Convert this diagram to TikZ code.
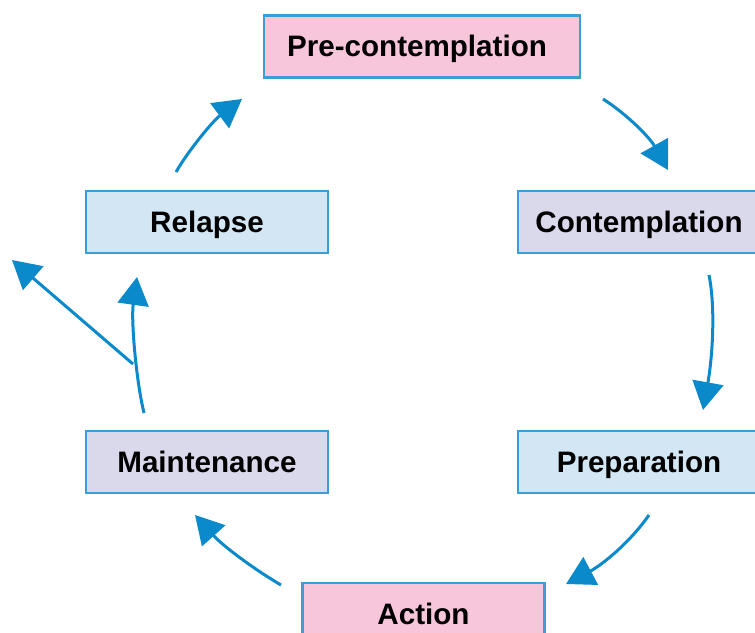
\documentclass[tikz,border=0pt]{standalone}
\usepackage{fontspec}
\setmainfont{Liberation Sans}
\usetikzlibrary{arrows.meta}
\definecolor{edgeblue}{RGB}{60,158,212}
\definecolor{arrowblue}{RGB}{10,137,203}
\definecolor{pinkfill}{RGB}{247,198,219}
\definecolor{lavfill}{RGB}{218,216,235}
\definecolor{bluefill}{RGB}{210,230,244}
\tikzset{
  stagebox/.style={draw=edgeblue, line width=2.2pt, minimum height=62pt,
    minimum width=242pt, inner sep=0pt, font=\fontsize{29.6}{34}\selectfont\bfseries,
    text height=20.5pt, text depth=0pt},
  cyclearrow/.style={draw=arrowblue, line width=3pt,
    -{Triangle[length=28pt,width=31pt]}}
}
\begin{document}
\begin{tikzpicture}[x=1pt,y=-1pt]
\useasboundingbox (0,0) rectangle (755,632);
\clip (0,0) rectangle (755,632);
% stage boxes
\node[stagebox, fill=pinkfill, minimum width=316pt] (pre) at (422,46.5) {Pre-contemplation\hspace*{10pt}};
\node[stagebox, fill=lavfill] (con) at (639,222) {Contemplation};
\node[stagebox, fill=bluefill] (prep) at (639,462) {Preparation};
\node[stagebox, fill=pinkfill] (act) at (423.5,614) {Action};
\node[stagebox, fill=lavfill] (main) at (207,462) {Maintenance};
\node[stagebox, fill=bluefill] (rel) at (207,222) {Relapse};
% connector end points
\coordinate (a1s) at (603,99);   \coordinate (a1e) at (668,170);
\coordinate (a2s) at (709,275);  \coordinate (a2e) at (703,410);
\coordinate (a3s) at (649,515);  \coordinate (a3e) at (566,584);
\coordinate (a4s) at (281,585);  \coordinate (a4e) at (195,515);
\coordinate (a5s) at (144,413);  \coordinate (a5e) at (137,277);
\coordinate (fork) at (133,364); \coordinate (exit) at (12,260);
\coordinate (a7s) at (176,172);  \coordinate (a7e) at (242,99);
% cycle arrows
\draw[cyclearrow] (a1s) .. controls (628,115) and (650,138) .. (a1e);
\draw[cyclearrow] (a2s) .. controls (716,310) and (712,360) .. (a2e);
\draw[cyclearrow] (a3s) .. controls (628,545) and (600,566) .. (a3e);
\draw[cyclearrow] (a4s) .. controls (252,568) and (222,545) .. (a4e);
\draw[cyclearrow] (a5s) .. controls (136,380) and (131,320) .. (a5e);
\draw[cyclearrow] (fork) -- (exit);
\draw[cyclearrow] (a7s) .. controls (190,148) and (214,120) .. (a7e);
\end{tikzpicture}
\end{document}
